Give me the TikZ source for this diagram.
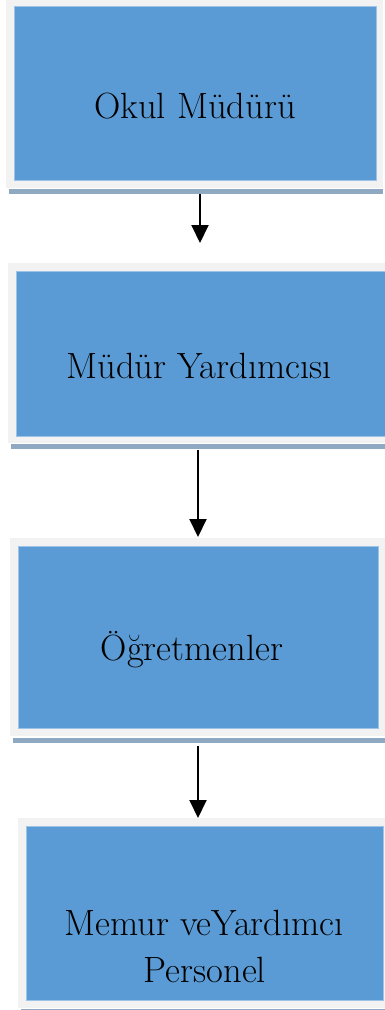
\documentclass[tikz,border=0pt]{standalone}
\usetikzlibrary{arrows.meta}
\definecolor{boxblue}{HTML}{5B9BD5}
\definecolor{framegrey}{HTML}{F2F2F2}
\definecolor{shadowc}{HTML}{8EA9C1}
\definecolor{edgeblue}{HTML}{9DC3E6}
\tikzset{
  framebox/.style={fill=framegrey, draw=none, anchor=north west, inner sep=0pt, outer sep=0pt},
  bluebox/.style={fill=boxblue, draw=edgeblue, line width=0.8pt, anchor=north west, inner sep=0pt, outer sep=0pt},
  shadowbox/.style={fill=shadowc, draw=none, anchor=north west, inner sep=0pt, outer sep=0pt},
  label/.style={font=\fontsize{36.5}{47}\selectfont, text=black, inner sep=0pt, align=center},
  arr/.style={-{Triangle[length=18pt,width=17pt]}, line width=2pt, black}
}
\begin{document}
\begin{tikzpicture}[x=1pt,y=-1pt]
\useasboundingbox (0,0) rectangle (385,1010);
% box 1
\node[shadowbox, minimum width=374pt, minimum height=5pt] (s1) at (9,189) {};
\node[framebox, minimum width=377pt, minimum height=188pt] (f1) at (6,0) {};
\node[bluebox, minimum width=362pt, minimum height=174pt] (b1) at (14,6) {};
\node[label, anchor=base] (t1) at (195,118) {Okul Müdürü};
% box 2
\node[shadowbox, minimum width=374pt, minimum height=5pt] (s2) at (11,444) {};
\node[framebox, minimum width=377pt, minimum height=180pt] (f2) at (8,263) {};
\node[bluebox, minimum width=372pt, minimum height=165pt] (b2) at (16,271) {};
\node[label, anchor=base] (t2) at (199,378) {Müdür Yardımcısı};
% box 3
\node[shadowbox, minimum width=372pt, minimum height=5pt] (s3) at (13,738) {};
\node[framebox, minimum width=375pt, minimum height=198pt] (f3) at (10,538) {};
\node[bluebox, minimum width=360pt, minimum height=182pt] (b3) at (18,546) {};
\node[label, anchor=base] (t3) at (192,660) {Öğretmenler};
% box 4
\node[shadowbox, minimum width=364pt, minimum height=2pt] (s4) at (21,1008.5) {};
\node[framebox, minimum width=367pt, minimum height=190pt] (f4) at (18,818) {};
\node[bluebox, minimum width=357pt, minimum height=174pt] (b4) at (26,826) {};
\node[label, anchor=base] (t4a) at (204,935) {Memur veYardımcı};
\node[label, anchor=base] (t4b) at (205,982) {Personel};
% arrows
\coordinate (e1) at (200,243);
\coordinate (e2) at (198,537);
\coordinate (e3) at (198,818);
\draw[arr] (s1.south -| e1) -- (e1);
\draw[arr] ([yshift=-1pt]s2.south -| e2) -- (e2);
\draw[arr] ([yshift=-3pt]s3.south -| e3) -- (e3);
\end{tikzpicture}
\end{document}
